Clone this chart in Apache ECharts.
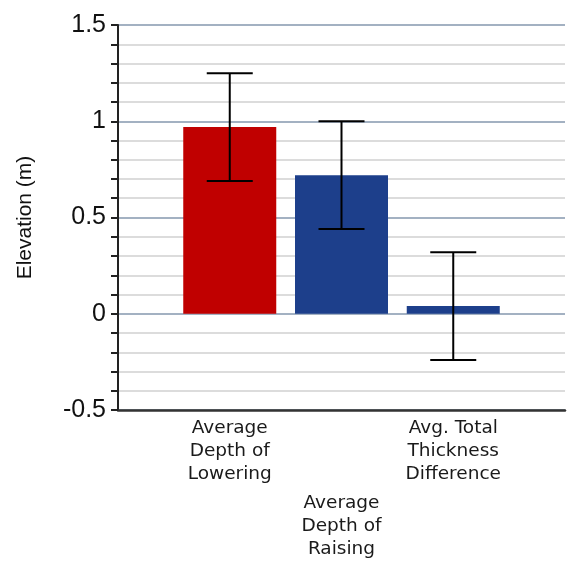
<!DOCTYPE html>
<html>
<head>
<meta charset="utf-8">
<script src="https://cdn.jsdelivr.net/npm/echarts@6/dist/echarts.min.js"></script>
<style>
html,body{margin:0;padding:0;background:#fff;}
#c{width:568px;height:561px;}
</style>
</head>
<body>
<div id="c"></div>
<script>
// Data
var categories = ['', 'Average\nDepth of\nLowering', 'Average\nDepth of\nRaising', 'Avg. Total\nThickness\nDifference', ''];
var means = [null, 0.97, 0.72, 0.04, null];
var errors = [null, 0.28, 0.28, 0.28, null];
var barColors = ['#C00000', '#C00000', '#1D3F8B', '#1D3F8B', '#1D3F8B'];
var yTicks = [-0.5, 0, 0.5, 1, 1.5];

var chart = echarts.init(document.getElementById('c'), null, {renderer: 'canvas'});

var barData = means.map(function (v, i) {
  return v === null ? null : {value: v, itemStyle: {color: barColors[i]}};
});
var errData = [];
means.forEach(function (v, i) {
  if (v !== null) errData.push([i, v - errors[i], v + errors[i]]);
});

var option = {
  animation: false,
  backgroundColor: '#fff',
  grid: {left: 118, top: 25, height: 390, width: 460, containLabel: false},
  xAxis: {
    type: 'category',
    data: categories,
    boundaryGap: false,
    axisLine: {show: true, onZero: false, lineStyle: {color: '#333', width: 2.5}},
    axisTick: {show: false},
    splitLine: {show: false},
    axisLabel: {
      interval: 0,
      margin: 7,
      color: '#1a1a1a',
      fontFamily: 'DejaVu Sans',
      fontSize: 18.5,
      lineHeight: 23,
      formatter: function (val, idx) {
        if (idx === 2) return '{s| }\n{t|' + val.split('\n').join('}\n{t|') + '}';
        return val;
      },
      rich: {
        s: {height: 75, lineHeight: 75, fontSize: 1},
        t: {fontFamily: 'DejaVu Sans', fontSize: 18.5, lineHeight: 23, color: '#1a1a1a'}
      }
    }
  },
  yAxis: {
    type: 'value',
    min: -0.5,
    max: 1.5,
    interval: 0.5,
    name: 'Elevation (m)',
    nameLocation: 'middle',
    nameGap: 82,
    nameTextStyle: {fontFamily: 'Liberation Sans', fontSize: 21, color: '#111'},
    axisLine: {show: true, lineStyle: {color: '#222', width: 2}},
    axisTick: {show: true, length: 7, lineStyle: {color: '#222', width: 2}},
    minorTick: {show: true, splitNumber: 5, length: 7, lineStyle: {color: '#222', width: 2}},
    splitLine: {show: true, lineStyle: {color: '#8497AE', width: 1.5}},
    minorSplitLine: {show: true, lineStyle: {color: '#dcdcdc', width: 2}},
    axisLabel: {
      margin: 12,
      color: '#111',
      fontFamily: 'Liberation Sans',
      fontSize: 25,
      formatter: function (v) {
        for (var i = 0; i < yTicks.length; i++) {
          if (Math.abs(yTicks[i] - v) < 1e-9) return String(yTicks[i]);
        }
        return '';
      }
    }
  },
  series: [
    {
      type: 'bar',
      data: barData,
      barWidth: 93,
      z: 2
    },
    {
      type: 'custom',
      z: 5,
      data: errData,
      encode: {x: 0, y: [1, 2]},
      renderItem: function (params, api) {
        var x = api.value(0);
        var lo = api.coord([x, api.value(1)]);
        var hi = api.coord([x, api.value(2)]);
        var half = 23;
        var style = {stroke: '#000', lineWidth: 2};
        return {
          type: 'group',
          children: [
            {type: 'line', shape: {x1: lo[0], y1: lo[1], x2: hi[0], y2: hi[1]}, style: style},
            {type: 'line', shape: {x1: hi[0] - half, y1: hi[1], x2: hi[0] + half, y2: hi[1]}, style: style},
            {type: 'line', shape: {x1: lo[0] - half, y1: lo[1], x2: lo[0] + half, y2: lo[1]}, style: style}
          ]
        };
      }
    }
  ]
};
chart.setOption(option);
</script>
</body>
</html>
